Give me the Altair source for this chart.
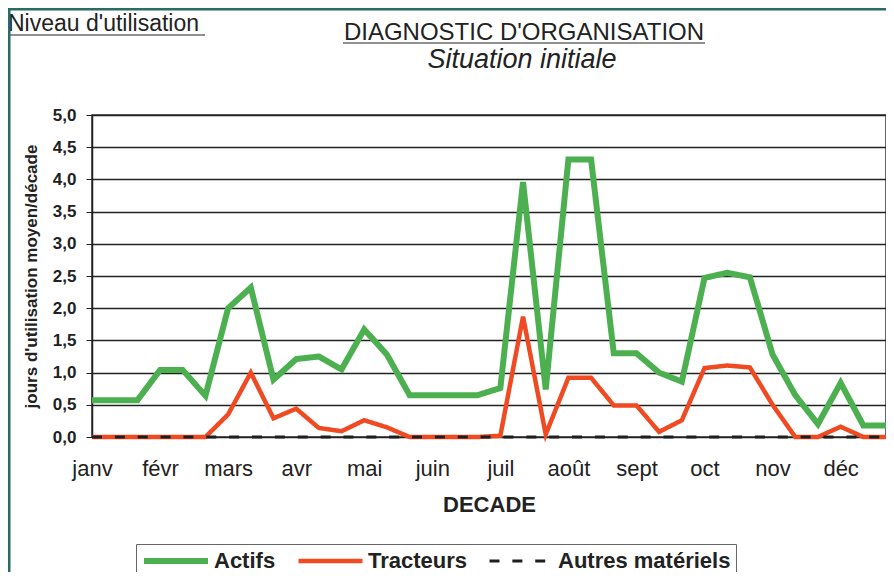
import altair as alt
import pandas as pd

months = ["janv", "févr", "mars", "avr", "mai", "juin", "juil", "août", "sept", "oct", "nov", "déc"]
decades = list(range(36))
actifs = [0.57, 0.57, 0.57, 1.04, 1.04, 0.64, 2.00, 2.32, 0.89, 1.21, 1.25, 1.05,
          1.67, 1.28, 0.65, 0.65, 0.65, 0.65, 0.76, 3.96, 0.74, 4.31, 4.31, 1.30,
          1.30, 1.00, 0.86, 2.47, 2.55, 2.48, 1.28, 0.65, 0.20, 0.84, 0.18, 0.18]
tracteurs = [0, 0, 0, 0, 0, 0, 0.35, 1.00, 0.29, 0.44, 0.14, 0.09,
             0.26, 0.15, 0, 0, 0, 0, 0.02, 1.87, 0.04, 0.92, 0.92, 0.49,
             0.49, 0.08, 0.26, 1.07, 1.11, 1.08, 0.50, 0, 0, 0.16, 0, 0]
autres = [0] * 36
series = ["Actifs", "Tracteurs", "Autres matériels"]
colors = ["#4cb050", "#ef4a22", "#1e1e1e"]

rows = []
for name, vals in zip(series, [actifs, tracteurs, autres]):
    for d, v in zip(decades, vals):
        rows.append({"decade": d, "serie": name, "valeur": v})
df = pd.DataFrame(rows)

FONT = "Liberation Sans"
month_arr = "[" + ",".join("'" + m + "'" for m in months) + "]"

x_enc = alt.X("decade:Q",
              scale=alt.Scale(domain=[0, 35], nice=False, zero=False),
              axis=alt.Axis(values=[i * 3 for i in range(12)],
                            labelExpr=month_arr + "[round(datum.value/3)]",
                            title="DECADE", ticks=False, domain=False, grid=False,
                            labelFontSize=22, labelColor="#222", labelPadding=21,
                            labelFlush=False,
                            labelFont=FONT, titleFont=FONT, titleFontSize=22,
                            titleFontWeight="bold", titleColor="#222", titlePadding=15,
                            labelOverlap=False))
y_enc = alt.Y("valeur:Q",
              scale=alt.Scale(domain=[0, 5], nice=False),
              axis=alt.Axis(values=[i * 0.5 for i in range(11)],
                            labelExpr="replace(format(datum.value, '.1f'), '.', ',')",
                            title="jours d'utilisation moyen/décade",
                            tickSize=6, tickColor="#222", domainColor="#222", domainWidth=1.5,
                            gridColor="#222", gridWidth=1.5, labelPadding=10,
                            labelFontSize=17, labelFontWeight="bold", labelColor="#222",
                            labelFont=FONT, titleFont=FONT, titleFontSize=17,
                            titleFontWeight="bold", titleColor="#222", titlePadding=12))

leg = dict(title=None, orient="none", legendX=44, legendY=429, direction="horizontal")
color_enc = alt.Color("serie:N", scale=alt.Scale(domain=series, range=colors),
                      legend=alt.Legend(symbolType="stroke",
                                        symbolSize=4096, labelFontSize=22, labelFontWeight="bold",
                                        labelColor="#222", labelFont=FONT, labelLimit=0,
                                        strokeColor="#666", padding=5, columnPadding=20,
                                        labelOffset=3, fillColor="white", clipHeight=24, **leg))
dash_enc = alt.StrokeDash("serie:N", scale=alt.Scale(domain=series, range=[[1, 0], [1, 0], [10, 12.86]]),
                          legend=alt.Legend(**leg))
width_enc = alt.StrokeWidth("serie:N", scale=alt.Scale(domain=series, range=[6, 3, 3.5]),
                            legend=alt.Legend(**leg))

layers = []
for name in series:
    layers.append(
        alt.Chart(df).transform_filter(alt.datum.serie == name).mark_line(strokeCap="butt", strokeJoin="miter")
        .encode(x=x_enc, y=y_enc, color=color_enc, strokeDash=dash_enc, strokeWidth=width_enc)
    )

one = alt.Data(values=[{}])

def txt(s, x, y, size, **kw):
    return alt.Chart(one).mark_text(text=s, font=FONT, fontSize=size, color="#222", **kw).encode(
        x=alt.value(x), y=alt.value(y))

def uline(x1, x2, y):
    return alt.Chart(one).mark_rule(color="#222", strokeWidth=1.2).encode(
        x=alt.value(x1), x2=alt.value(x2), y=alt.value(y))

deco = [
    txt("Niveau d'utilisation", -84, -84, 23, align="left", baseline="alphabetic"),
    uline(-84, 113, -80),
    txt("DIAGNOSTIC D'ORGANISATION", 432, -75, 24, align="center", baseline="alphabetic"),
    uline(251, 613, -72),
    txt("Situation initiale", 430, -47, 27, align="center", baseline="alphabetic", fontStyle="italic"),
    alt.Chart(one).mark_rule(color="#2a6b64", strokeWidth=3).encode(
        x=alt.value(-83), y=alt.value(-107), y2=alt.value(457)),
    alt.Chart(one).mark_rule(color="#2a6b64", strokeWidth=3).encode(
        x=alt.value(-84), x2=alt.value(794), y=alt.value(-106)),
]

chart = alt.layer(*layers, *deco).properties(
    width=794, height=322,
    autosize=alt.AutoSizeParams(type="none"),
    padding={"left": 84, "top": 107, "right": 0, "bottom": 135},
    background="white",
).configure_view(stroke="#333", strokeWidth=1.5).configure_legend(
    symbolStrokeWidth=4
)

chart.save("out.html", embed_options={"renderer": "svg", "actions": False})
